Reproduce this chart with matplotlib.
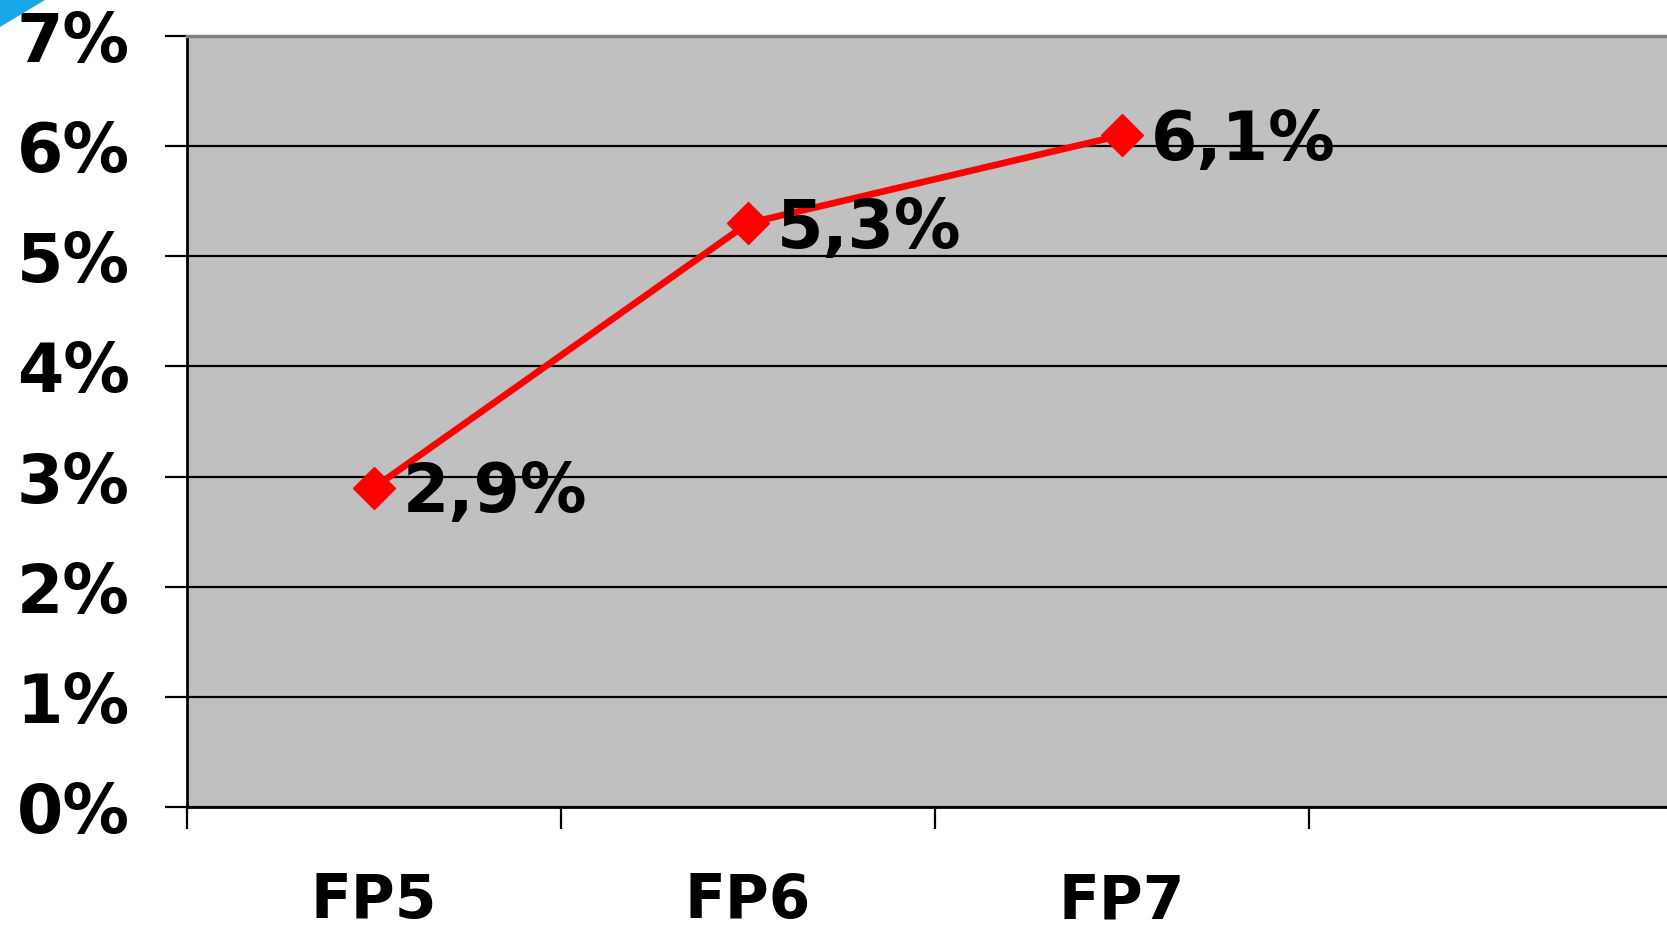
from matplotlib import pyplot as plt
from matplotlib.patches import Polygon
from matplotlib.ticker import FuncFormatter

programmes = ["FP5", "FP6", "FP7"]
shares = [2.9, 5.3, 6.1]
share_labels = ["2,9%", "5,3%", "6,1%"]

plt.rcParams['font.family'] = ['DejaVu Sans']
plt.rcParams['font.weight'] = 'bold'

fig = plt.figure(figsize=(16.67, 9.36), dpi=100)
ax = fig.add_axes([187/1667, 129/936, 1496/1667, 771/936])
ax.set_facecolor('#c0c0c0')

x = list(range(len(programmes)))
ax.plot(x, shares, color='red', linewidth=4.8, marker='D', markersize=21,
        zorder=3, clip_on=False)
for xi, v, lab in zip(x, shares, share_labels):
    ax.annotate(lab, (xi, v), xytext=(21, -4), textcoords='offset points',
                ha='left', va='center', fontsize=48, fontweight='bold', zorder=4)

ax.set_xlim(-0.5, 3.5)
ax.set_ylim(0, 7)
ax.set_yticks(range(0, 8))
ax.yaxis.set_major_formatter(FuncFormatter(lambda v, p: f"{int(v)}%"))
ax.set_xticks([-0.5, 0.5, 1.5, 2.5])
ax.set_xticklabels([])
ax.set_xticks(x, minor=True)
ax.set_xticklabels(programmes, minor=True)

ax.grid(axis='y', color='black', linewidth=1.6)
ax.set_axisbelow(True)
ax.tick_params(axis='y', length=16, width=1.6, pad=25, labelsize=48)
ax.tick_params(axis='x', which='major', length=16, width=1.6, direction='out')
ax.tick_params(axis='x', which='minor', length=0, pad=47, labelsize=43)

for s in ['left', 'bottom']:
    ax.spines[s].set_linewidth(2)
    ax.spines[s].set_color('black')
ax.spines['top'].set_color('#808080')
ax.spines['top'].set_linewidth(2.5)
ax.spines['right'].set_visible(False)

# blue corner decoration of the slide
fig.patches.append(Polygon([[0, 1], [45/1667, 1], [0, 1 - 27/936]], closed=True,
                           transform=fig.transFigure, facecolor='#1aa7e8',
                           edgecolor='none'))

fig.savefig("out.png", dpi=100)
